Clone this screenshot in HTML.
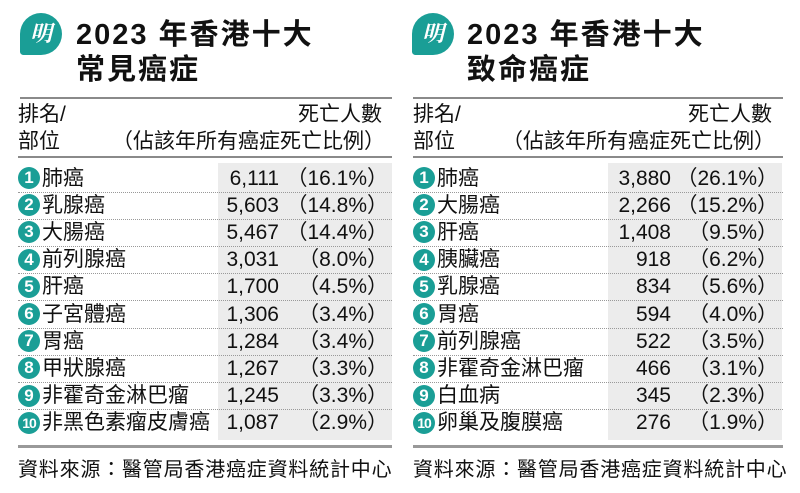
<!DOCTYPE html>
<html><head><meta charset="utf-8">
<style>
*{margin:0;padding:0;box-sizing:border-box}
body{width:800px;height:493px;background:#fff;position:relative;overflow:hidden;font-family:"Liberation Sans","Noto Sans CJK TC",sans-serif;color:#111}
.p{position:absolute;top:0;width:380px;height:493px}
.logo{position:absolute;top:13px;width:42px;height:42px;background:#1a9e96;border-radius:50% 50% 50% 8%;color:#fff;font:bold italic 22px "Noto Serif CJK SC",serif;text-align:center;line-height:40px}
.t{position:absolute;font-weight:bold;font-size:29px;line-height:34px;white-space:nowrap;letter-spacing:2px}
.rule{position:absolute;height:2px;background:#8a8a8a}
.h{position:absolute;font-size:21px;line-height:26px;white-space:nowrap}
.gc{position:absolute;background:#ececec}
.row{position:absolute;height:27px;font-size:21px;line-height:27px;white-space:nowrap;display:flex;align-items:center}
.sep{position:absolute;height:0;border-top:1px dotted #999}
.c{display:inline-block;flex:none;width:22px;height:22px;border-radius:50%;background:#1a9e96;color:#fff;font-weight:bold;font-size:17px;line-height:22px;text-align:center;margin-right:2px}
.c.s{font-size:14px;letter-spacing:-1px}
.n{justify-content:flex-end}
.src{position:absolute;font-size:20px;white-space:nowrap;letter-spacing:0.8px}
</style></head><body>

<div class="p" style="left:0">
<div class="logo" style="left:20px">明</div>
<div class="t" style="left:76px;top:18px">2023 年香港十大</div>
<div class="t" style="left:76px;top:53px">常見癌症</div>
<div class="rule" style="left:20px;width:372px;top:97px"></div>
<div class="h" style="left:18px;top:102px">排名/</div>
<div class="h" style="left:18px;top:129px">部位</div>
<div class="h" style="left:282px;top:102px;width:100px;text-align:right">死亡人數</div>
<div class="h" style="left:110px;top:129px;width:275px;text-align:right">（佔該年所有癌症死亡比例）</div>
<div class="rule" style="left:18px;width:374px;top:156px;height:1.5px"></div>
<div class="gc" style="left:218px;width:174px;top:163px;height:277px"></div>
</div>

<div class="p" style="left:0">
<div class="logo" style="left:412px">明</div>
<div class="t" style="left:467px;top:18px">2023 年香港十大</div>
<div class="t" style="left:467px;top:53px">致命癌症</div>
<div class="rule" style="left:413px;width:370px;top:97px"></div>
<div class="h" style="left:413px;top:102px">排名/</div>
<div class="h" style="left:672px;top:102px;width:100px;text-align:right">死亡人數</div>
<div class="h" style="left:413px;top:129px">部位</div>
<div class="h" style="left:500px;top:129px;width:275px;text-align:right">（佔該年所有癌症死亡比例）</div>
<div class="rule" style="left:413px;width:370px;top:156px;height:1.5px"></div>
<div class="gc" style="left:608px;width:174px;top:163px;height:277px"></div>
</div>

<div id="rows"></div>

<div class="rule" style="left:18px;width:374px;top:445px;height:3px;background:#999"></div>
<div class="rule" style="left:413px;width:370px;top:445px;height:3px;background:#999"></div>
<div class="src" style="left:18px;top:453px">資料來源：醫管局香港癌症資料統計中心</div>
<div class="src" style="left:413px;top:453px">資料來源：醫管局香港癌症資料統計中心</div>

<script>
var A=[["肺癌","6,111","（16.1%）"],["乳腺癌","5,603","（14.8%）"],["大腸癌","5,467","（14.4%）"],["前列腺癌","3,031","（8.0%）"],["肝癌","1,700","（4.5%）"],["子宮體癌","1,306","（3.4%）"],["胃癌","1,284","（3.4%）"],["甲狀腺癌","1,267","（3.3%）"],["非霍奇金淋巴瘤","1,245","（3.3%）"],["非黑色素瘤皮膚癌","1,087","（2.9%）"]];
var B=[["肺癌","3,880","（26.1%）"],["大腸癌","2,266","（15.2%）"],["肝癌","1,408","（9.5%）"],["胰臟癌","918","（6.2%）"],["乳腺癌","834","（5.6%）"],["胃癌","594","（4.0%）"],["前列腺癌","522","（3.5%）"],["非霍奇金淋巴瘤","466","（3.1%）"],["白血病","345","（2.3%）"],["卵巢及腹膜癌","276","（1.9%）"]];
var h="";
function mk(D,x0,nr,pr,w){
 for(var i=0;i<10;i++){
  var y=164.5+i*27.2;
  h+='<div class="row" style="left:'+x0+'px;top:'+y+'px"><span class="c'+(i==9?' s':'')+'">'+(i+1)+'</span>'+D[i][0]+'</div>';
  h+='<div class="row n" style="left:'+(nr-120)+'px;width:120px;top:'+y+'px">'+D[i][1]+'</div>';
  h+='<div class="row n" style="left:'+(pr-140)+'px;width:140px;top:'+y+'px">'+D[i][2]+'</div>';
  if(i<9)h+='<div class="sep" style="left:'+x0+'px;width:'+w+'px;top:'+(y+27)+'px"></div>';
 }
}
mk(A,18,279,388,374);
mk(B,413,671,778,370);
document.getElementById("rows").innerHTML=h;
</script>
</body></html>
